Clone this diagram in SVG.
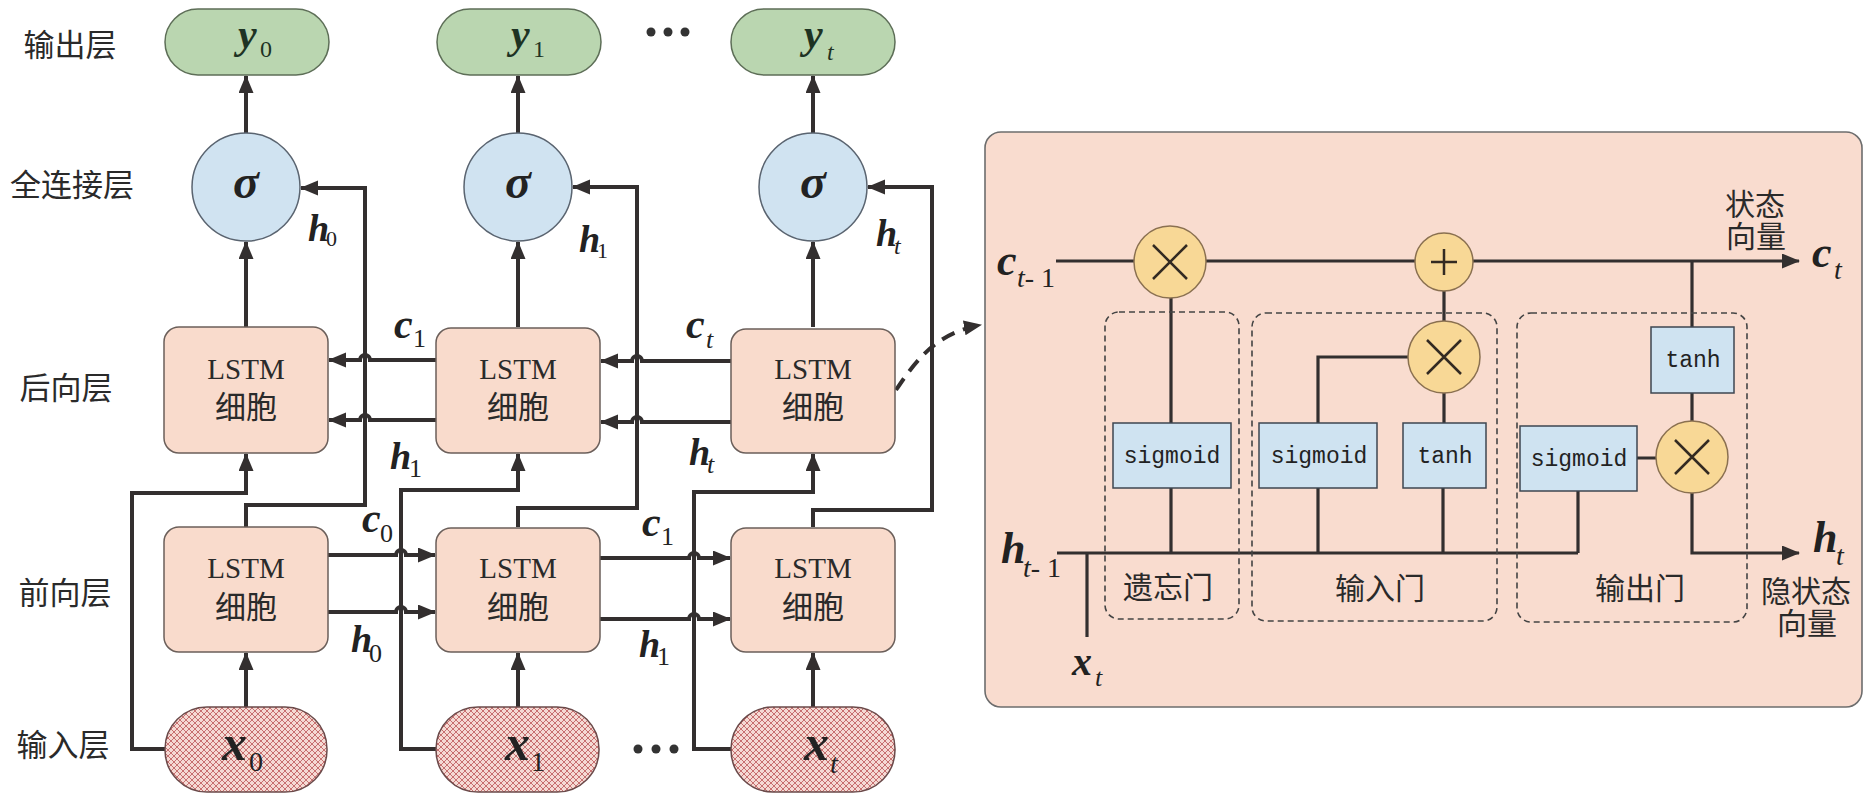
<svg xmlns="http://www.w3.org/2000/svg" width="1875" height="812" viewBox="0 0 1875 812">
<defs>
<style>
.ln{fill:none;stroke:#332f2f;stroke-width:4}
.pl{fill:none;stroke:#332f2f;stroke-width:3.2}
.ypill{fill:#bad6b0;stroke:#5d6e57;stroke-width:1.5}
.sig{fill:#d0e3f1;stroke:#5a6470;stroke-width:1.5}
.lstm{fill:#f9dbcc;stroke:#6b5f5a;stroke-width:1.5}
.xpill{fill:url(#hatch);stroke:#6b4a4a;stroke-width:1.5}
.op{fill:#f8d896;stroke:#8a7050;stroke-width:1.5}
.opx{stroke:#332a22;stroke-width:2.5;fill:none}
.bb{fill:#cfe3f1;stroke:#3e4650;stroke-width:1.5}
.gate{fill:none;stroke:#444;stroke-width:1.6;stroke-dasharray:6 4}
.row{font-family:"Noto Sans CJK SC","Noto Sans",sans-serif;font-size:31px;fill:#2a2a2a;text-anchor:middle}
.cn{font-family:"Noto Sans CJK SC","Noto Sans",sans-serif;font-size:30px;fill:#2a2a2a;text-anchor:middle}
.lt{font-family:"Liberation Serif",serif;font-size:29px;fill:#2a2a2a;text-anchor:middle}
.cell{font-family:"Liberation Serif","Noto Sans CJK SC",serif;font-size:31px;fill:#2a2a2a;text-anchor:middle}
.mono{font-family:"Liberation Mono",monospace;font-size:23px;fill:#222;text-anchor:middle}
.v{font-family:"Liberation Serif",serif;font-style:italic;font-weight:bold;fill:#222}
.s{font-family:"Liberation Serif",serif;fill:#222}
.si{font-family:"Liberation Serif",serif;font-style:italic;fill:#222}
.g{fill:#1e3323}
</style>
<pattern id="hatch" patternUnits="userSpaceOnUse" width="6" height="6">
<rect width="6" height="6" fill="#f5dad4"/>
<path d="M0,0 L6,6 M6,0 L0,6" stroke="#c26464" stroke-width="0.9"/>
</pattern>
<marker id="ah" markerUnits="userSpaceOnUse" markerWidth="20" markerHeight="18" refX="17" refY="7.5" orient="auto">
<path d="M0,0 L18,7.5 L0,15 z" fill="#332f2f"/>
</marker>
</defs>
<rect width="1875" height="812" fill="#ffffff"/>

<g id="row-labels">
<text class="row" x="70" y="56">输出层</text>
<text class="row" x="72" y="196">全连接层</text>
<text class="row" x="66" y="399">后向层</text>
<text class="row" x="65" y="604">前向层</text>
<text class="row" x="63" y="756">输入层</text>
</g>

<g id="connectors">
<path class="ln" d="M246,133 V76" marker-end="url(#ah)"/>
<path class="ln" d="M518,133 V76" marker-end="url(#ah)"/>
<path class="ln" d="M813,133 V76" marker-end="url(#ah)"/>
<path class="ln" d="M246,327 V242" marker-end="url(#ah)"/>
<path class="ln" d="M518,327 V242" marker-end="url(#ah)"/>
<path class="ln" d="M813,327 V242" marker-end="url(#ah)"/>
<path class="ln" d="M246,527 V505 H365 V188 H301" marker-end="url(#ah)"/>
<path class="ln" d="M518,527 V508 H637 V187 H573" marker-end="url(#ah)"/>
<path class="ln" d="M813,527 V510 H932 V187 H868" marker-end="url(#ah)"/>
<path class="ln" d="M165,749 H132 V493 H246 V454" marker-end="url(#ah)"/>
<path class="ln" d="M436,749 H401 V490 H518 V454" marker-end="url(#ah)"/>
<path class="ln" d="M731,749 H694 V492 H813 V454" marker-end="url(#ah)"/>
<path class="ln" d="M246,707 V653" marker-end="url(#ah)"/>
<path class="ln" d="M518,707 V653" marker-end="url(#ah)"/>
<path class="ln" d="M813,707 V653" marker-end="url(#ah)"/>
<path class="ln" d="M436,360 H370 A5,5 0 0 0 360,360 H329" marker-end="url(#ah)"/>
<path class="ln" d="M436,420 H370 A5,5 0 0 0 360,420 H329" marker-end="url(#ah)"/>
<path class="ln" d="M731,361 H642 A5,5 0 0 0 632,361 H601" marker-end="url(#ah)"/>
<path class="ln" d="M731,422 H642 A5,5 0 0 0 632,422 H601" marker-end="url(#ah)"/>
<path class="ln" d="M328,555 H396 A5,5 0 0 1 406,555 H435" marker-end="url(#ah)"/>
<path class="ln" d="M328,612 H396 A5,5 0 0 1 406,612 H435" marker-end="url(#ah)"/>
<path class="ln" d="M600,558 H689 A5,5 0 0 1 699,558 H730" marker-end="url(#ah)"/>
<path class="ln" d="M600,619 H689 A5,5 0 0 1 699,619 H730" marker-end="url(#ah)"/>
<path class="ln" d="M896,390 C915,362 935,333 981,325" stroke-dasharray="14 9" marker-end="url(#ah)"/>
</g>

<g id="edge-labels">
<text class="v" x="308" y="241" font-size="38">h</text><text class="s" x="326" y="246" font-size="22">0</text>
<text class="v" x="579" y="252" font-size="38">h</text><text class="s" x="597" y="258" font-size="22">1</text>
<text class="v" x="876" y="246" font-size="38">h</text><text class="si" x="894" y="254" font-size="24">t</text>
<text class="v" x="394" y="338" font-size="42">c</text><text class="s" x="413" y="347" font-size="26">1</text>
<text class="v" x="390" y="469" font-size="38">h</text><text class="s" x="409" y="477" font-size="26">1</text>
<text class="v" x="686" y="338" font-size="42">c</text><text class="si" x="706" y="348" font-size="26">t</text>
<text class="v" x="689" y="465" font-size="38">h</text><text class="si" x="707" y="473" font-size="26">t</text>
<text class="v" x="362" y="532" font-size="42">c</text><text class="s" x="380" y="542" font-size="26">0</text>
<text class="v" x="351" y="652" font-size="38">h</text><text class="s" x="369" y="662" font-size="26">0</text>
<text class="v" x="642" y="536" font-size="42">c</text><text class="s" x="661" y="545" font-size="26">1</text>
<text class="v" x="639" y="657" font-size="38">h</text><text class="s" x="657" y="665" font-size="26">1</text>
</g>

<g id="ellipsis">
<circle cx="651" cy="32" r="4.5" fill="#333"/><circle cx="668" cy="32" r="4.5" fill="#333"/><circle cx="685" cy="32" r="4.5" fill="#333"/>
<circle cx="638" cy="749" r="4.5" fill="#333"/><circle cx="656" cy="749" r="4.5" fill="#333"/><circle cx="674" cy="749" r="4.5" fill="#333"/>
</g>

<g id="y0"><rect class="ypill" x="165" y="9" width="164" height="66" rx="33"/><text class="v g" x="238" y="48" font-size="42">y</text><text class="s g" x="260" y="57" font-size="24">0</text></g>
<g id="y1"><rect class="ypill" x="437" y="9" width="164" height="66" rx="33"/><text class="v g" x="511" y="48" font-size="42">y</text><text class="s g" x="533" y="57" font-size="24">1</text></g>
<g id="yt"><rect class="ypill" x="731" y="9" width="164" height="66" rx="33"/><text class="v g" x="804" y="48" font-size="42">y</text><text class="si g" x="827" y="60" font-size="24">t</text></g>

<g id="sigma0"><circle class="sig" cx="246" cy="187" r="54"/><text class="v" x="246" y="198" font-size="48" text-anchor="middle">σ</text></g>
<g id="sigma1"><circle class="sig" cx="518" cy="187" r="54"/><text class="v" x="518" y="198" font-size="48" text-anchor="middle">σ</text></g>
<g id="sigmat"><circle class="sig" cx="813" cy="187" r="54"/><text class="v" x="813" y="198" font-size="48" text-anchor="middle">σ</text></g>

<g id="bwd0"><rect class="lstm" x="164" y="327" width="164" height="126" rx="15"/><text class="lt" x="246" y="379">LSTM</text><text class="cell" x="246" y="418">细胞</text></g>
<g id="bwd1"><rect class="lstm" x="436" y="328" width="164" height="125" rx="15"/><text class="lt" x="518" y="379">LSTM</text><text class="cell" x="518" y="418">细胞</text></g>
<g id="bwdt"><rect class="lstm" x="731" y="329" width="164" height="124" rx="15"/><text class="lt" x="813" y="379">LSTM</text><text class="cell" x="813" y="418">细胞</text></g>

<g id="fwd0"><rect class="lstm" x="164" y="527" width="164" height="125" rx="15"/><text class="lt" x="246" y="578">LSTM</text><text class="cell" x="246" y="618">细胞</text></g>
<g id="fwd1"><rect class="lstm" x="436" y="528" width="164" height="124" rx="15"/><text class="lt" x="518" y="578">LSTM</text><text class="cell" x="518" y="618">细胞</text></g>
<g id="fwdt"><rect class="lstm" x="731" y="528" width="164" height="124" rx="15"/><text class="lt" x="813" y="578">LSTM</text><text class="cell" x="813" y="618">细胞</text></g>

<g id="x0"><rect class="xpill" x="165" y="707" width="162" height="85" rx="42"/><text class="v" x="222" y="760" font-size="50">x</text><text class="s" x="249" y="771" font-size="28">0</text></g>
<g id="x1"><rect class="xpill" x="436" y="707" width="163" height="85" rx="42"/><text class="v" x="505" y="760" font-size="50">x</text><text class="s" x="531" y="771" font-size="28">1</text></g>
<g id="xt"><rect class="xpill" x="731" y="707" width="164" height="85" rx="42"/><text class="v" x="804" y="760" font-size="50">x</text><text class="si" x="830" y="773" font-size="28">t</text></g>

<g id="cell-detail">
<rect x="985" y="132" width="877" height="575" rx="16" fill="#f9dccf" stroke="#6d6d6d" stroke-width="1.6"/>
<g id="detail-connectors">
<path class="pl" d="M1056,261 H1799" marker-end="url(#ah)"/>
<path class="pl" d="M1171,298 V423 M1171,488 V553"/>
<path class="pl" d="M1318,423 V357 H1408 M1318,488 V553"/>
<path class="pl" d="M1444,291 V321 M1444,393 V423 M1443,488 V553"/>
<path class="pl" d="M1692,261 V327 M1692,393 V421"/>
<path class="pl" d="M1637,458 H1656 M1578,491 V553"/>
<path class="pl" d="M1057,553 H1578"/>
<path class="pl" d="M1692,493 V553 H1799" marker-end="url(#ah)"/>
<path class="pl" d="M1087,553 V637"/>
</g>
<g id="forget-gate"><rect class="gate" x="1105" y="312" width="134" height="307" rx="14"/><rect class="bb" x="1113" y="423" width="118" height="65"/><text class="mono" x="1172" y="463">sigmoid</text><text class="cn" x="1168" y="598">遗忘门</text></g>
<g id="input-gate"><rect class="gate" x="1252" y="313" width="245" height="308" rx="14"/><rect class="bb" x="1259" y="423" width="118" height="65"/><text class="mono" x="1319" y="463">sigmoid</text><rect class="bb" x="1403" y="423" width="83" height="65"/><text class="mono" x="1445" y="463">tanh</text><text class="cn" x="1380" y="599">输入门</text></g>
<g id="output-gate"><rect class="gate" x="1517" y="313" width="230" height="309" rx="14"/><rect class="bb" x="1520" y="426" width="117" height="65"/><text class="mono" x="1579" y="466">sigmoid</text><rect class="bb" x="1651" y="327" width="83" height="66"/><text class="mono" x="1693" y="367">tanh</text><text class="cn" x="1640" y="599">输出门</text></g>
<g id="mul-forget"><circle class="op" cx="1170" cy="262" r="36"/><path class="opx" d="M1153,245 L1187,279 M1187,245 L1153,279"/></g>
<g id="add"><circle class="op" cx="1444" cy="262" r="29"/><path class="opx" d="M1431,262 H1457 M1444,249 V275"/></g>
<g id="mul-input"><circle class="op" cx="1444" cy="357" r="36"/><path class="opx" d="M1427,340 L1461,374 M1461,340 L1427,374"/></g>
<g id="mul-output"><circle class="op" cx="1692" cy="457" r="36"/><path class="opx" d="M1675,440 L1709,474 M1709,440 L1675,474"/></g>
<g id="detail-labels">
<text class="v" x="997" y="275" font-size="44">c</text><text class="s" x="1017" y="287" font-size="28"><tspan font-style="italic">t</tspan>- 1</text>
<text class="v" x="1812" y="267" font-size="44">c</text><text class="si" x="1834" y="279" font-size="28">t</text>
<text class="v" x="1001" y="563" font-size="44">h</text><text class="s" x="1023" y="577" font-size="28"><tspan font-style="italic">t</tspan>- 1</text>
<text class="v" x="1813" y="552" font-size="44">h</text><text class="si" x="1836" y="565" font-size="28">t</text>
<text class="v" x="1072" y="675" font-size="40">x</text><text class="si" x="1095" y="686" font-size="26">t</text>
<text class="cn"><tspan x="1755" y="215">状态</tspan><tspan x="1756" y="247">向量</tspan></text>
<text class="cn"><tspan x="1806" y="602">隐状态</tspan><tspan x="1807" y="634">向量</tspan></text>
</g>
</g>
</svg>
